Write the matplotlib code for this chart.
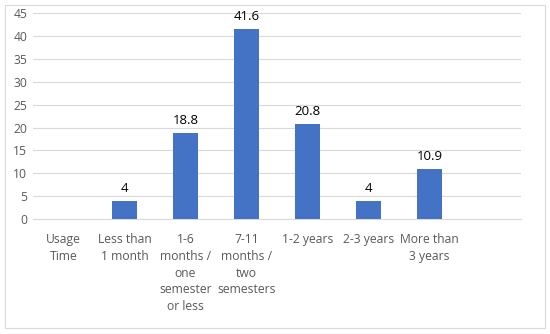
import matplotlib.pyplot as plt
from matplotlib.patches import Rectangle

categories = ["Usage\nTime", "Less than\n1 month", "1-6\nmonths /\none\nsemester\nor less",
              "7-11\nmonths /\ntwo\nsemesters", "1-2 years", "2-3 years", "More than\n3 years", ""]
values = [0, 4, 18.8, 41.6, 20.8, 4, 10.9, 0]
labels = ["", "4", "18.8", "41.6", "20.8", "4", "10.9", ""]

plt.rcParams['font.family'] = ['Open Sans', 'DejaVu Sans']

fig = plt.figure(figsize=(5.5, 3.34), dpi=100)
ax = fig.add_axes([0.06, 0.344, 0.887, 0.617])

x = list(range(len(categories)))
bars = ax.bar(x, values, width=0.4, color='#4472C4', zorder=3)
for b, lab in zip(bars, labels):
    if lab:
        ax.text(b.get_x() + b.get_width() / 2, b.get_height() + 1.3, lab,
                ha='center', va='bottom', fontsize=9.5, color='black')

ax.set_xlim(-0.5, len(categories) - 0.5)
ax.set_ylim(0, 45)
ax.set_yticks(range(0, 50, 5))
ax.yaxis.grid(True, color='#D9D9D9', linewidth=0.8, zorder=0)
ax.set_xticks(x)
ax.set_xticklabels(categories, fontsize=8.7, color='#595959', linespacing=1.38)
ax.tick_params(axis='y', labelsize=8.7, labelcolor='#595959', length=0, pad=4)
ax.tick_params(axis='x', length=0, pad=10)
for s in ['top', 'right', 'left']:
    ax.spines[s].set_visible(False)
ax.spines['bottom'].set_color('#D9D9D9')

fig.patches.append(Rectangle((0.009, 0.018), 0.982, 0.966, transform=fig.transFigure,
                             fill=False, edgecolor='#D9D9D9', linewidth=0.8))

fig.savefig("out.png", dpi=100)
